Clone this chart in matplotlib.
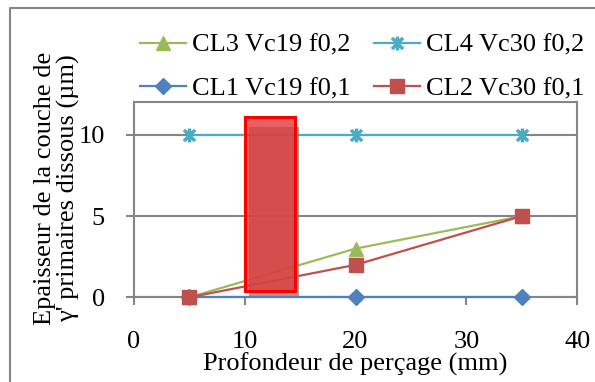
import matplotlib
matplotlib.use("Agg")
import matplotlib.pyplot as plt
from matplotlib.patches import Rectangle
from matplotlib.lines import Line2D
from matplotlib.path import Path

depth = [5, 20, 35]
cl1 = [0, 0, 0]
cl2 = [0, 2, 5]
cl3 = [0, 3, 5]
cl4 = [10, 10, 10]
labels = ["CL1 Vc19 f0,1", "CL2 Vc30 f0,1", "CL3 Vc19 f0,2", "CL4 Vc30 f0,2"]

# highlighted zone (x0, x1, y0, y1) in data units
zone = (10.0, 14.55, 0.4, 11.1)

plt.rcParams["font.family"] = ["Liberation Serif", "DejaVu Serif"]
plt.rcParams["font.size"] = 19
grey = "#868686"

fig = plt.figure(figsize=(5.95, 3.82), dpi=100)
ax = fig.add_axes([0.2250, 0.2217, 0.745, 0.510])

star = Path([(-1, -1), (1, 1), (-1, 1), (1, -1), (0, -1.25), (0, 1.25)],
            [Path.MOVETO, Path.LINETO] * 3)

l1, = ax.plot(depth, cl1, color="#4F81BD", lw=1.6, marker="D", ms=8.5, clip_on=False, zorder=3)
l2, = ax.plot(depth, cl2, color="#C0504D", lw=1.6, marker="s", ms=10, clip_on=False, zorder=5)
l3, = ax.plot(depth, cl3, color="#9BBB59", lw=1.6, marker="^", ms=9.5, clip_on=False, zorder=4)
l4, = ax.plot(depth, cl4, color="#4BACC6", lw=1.6, marker=star, ms=10, mew=2.5,
              mec="#4BACC6", clip_on=False, zorder=3)

# shadow + highlight box
x0, x1, y0, y1 = zone
ax.add_patch(Rectangle((x0 + 0.35, y0 - 0.3), x1 - x0, y1 - y0 - 0.3,
                       facecolor="#8a7a7a", alpha=0.75, lw=0, zorder=6))
ax.add_patch(Rectangle((x0, y0), x1 - x0, y1 - y0, facecolor="#e23a3a", alpha=0.8,
                       edgecolor="none", zorder=7))
ax.add_patch(Rectangle((x0, y0), x1 - x0, y1 - y0, facecolor="none",
                       edgecolor="#ff0000", lw=2.2, zorder=8))

ax.set_xlim(0, 40)
ax.set_ylim(0, 12)
ax.set_xticks([0, 10, 20, 30, 40])
ax.set_yticks([0, 5, 10])
ax.grid(axis="y", color=grey, lw=1.5)
ax.set_axisbelow(True)
for s in ax.spines.values():
    s.set_color(grey)
    s.set_linewidth(1.5)
ax.tick_params(direction="out", length=6, width=1.5, color=grey)
ax.tick_params(axis="x", pad=18)
ax.tick_params(axis="y", pad=15)

ax.set_xlabel("Profondeur de perçage (mm)", labelpad=0)
ax.set_ylabel("Epaisseur de la couche de\nγ' primaires dissous (µm)", linespacing=1.05)
ax.yaxis.set_label_coords(-0.121, 0.56)

fig.legend([l3, l1, l4, l2], [labels[2], labels[0], labels[3], labels[1]],
           ncol=2, loc="upper left", bbox_to_anchor=(0.218, 0.94),
           frameon=False, handlelength=1.75, handletextpad=0.2,
           columnspacing=0.9, labelspacing=0.75, borderaxespad=0)

# outer chart border
bx, by = 10 / 595, 1 - 8 / 382
fig.add_artist(Line2D([bx, bx, 1], [0, by, by], color=grey, lw=1.5))

fig.savefig("out.png", dpi=100)
